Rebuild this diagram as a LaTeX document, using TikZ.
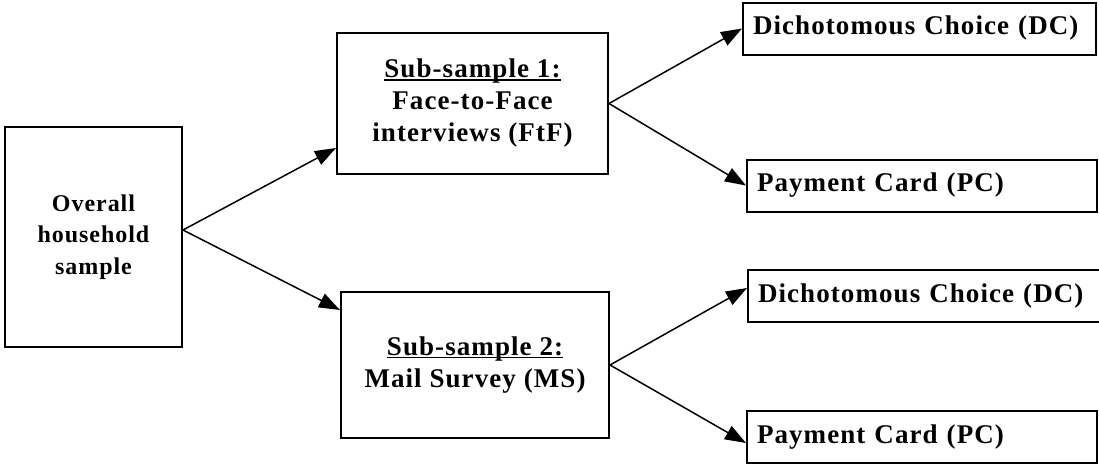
\documentclass[tikz,border=0pt]{standalone}
\usepackage{fontspec}
\setmainfont{Liberation Serif}[LetterSpace=4]
\usetikzlibrary{positioning,arrows.meta}
\tikzset{
  box/.style={draw=black, line width=2pt, rectangle, inner sep=0pt,
    font=\bfseries\fontsize{27}{32}\selectfont, align=center},
  choice/.style={box, text width=#1, align=left, inner xsep=10pt,
    minimum height=52pt},
  flow/.style={draw=black, line width=1.5pt,
    -{Triangle[length=21pt,width=15pt]}}
}
\newcommand{\subhead}[1]{\setbox0\hbox{#1}\rlap{\rule[-3pt]{\wd0}{1.5pt}}\box0}

\begin{document}
\begin{tikzpicture}[x=1pt,y=-1pt]
  \useasboundingbox (0,0) rectangle (1099,464);
  % samples
  \node[box, minimum width=177pt, minimum height=220pt,
    font=\bfseries\fontsize{24}{31.5}\selectfont] (overall) at (93.5,237)
    {Overall\\household\\sample};
  \node[box, minimum width=271pt, minimum height=141pt] (sub1) at (472.5,103.5)
    {\subhead{Sub-sample 1:}\\Face-to-Face\\interviews (FtF)};
  \node[box, minimum width=268pt, minimum height=146pt] (sub2) at (475,365)
    {\subhead{Sub-sample 2:}\\Mail Survey (MS)};
  % elicitation formats
  \node[choice=333pt] (dc1) at (919.5,28.5) {Dichotomous Choice (DC)};
  \node[choice=330pt] (pc1) at (922,185.5) {Payment Card (PC)};
  \node[choice=334pt] (dc2) at (925,296) {Dichotomous Choice (DC)};
  \node[choice=330pt] (pc2) at (922,437) {Payment Card (PC)};
  \coordinate (fork) at ([yshift=7pt]overall.east);
  \draw[flow] (fork) -- ([yshift=-44.5pt]sub1.west);
  \draw[flow] (fork) -- ([yshift=55pt]sub2.west);
  \draw[flow] (sub1.east) -- (dc1.west);
  \draw[flow] (sub1.east) -- (pc1.west);
  \draw[flow] (sub2.east) -- ([yshift=8pt]dc2.west);
  \draw[flow] (sub2.east) -- ([yshift=-6pt]pc2.west);
\end{tikzpicture}
\end{document}
